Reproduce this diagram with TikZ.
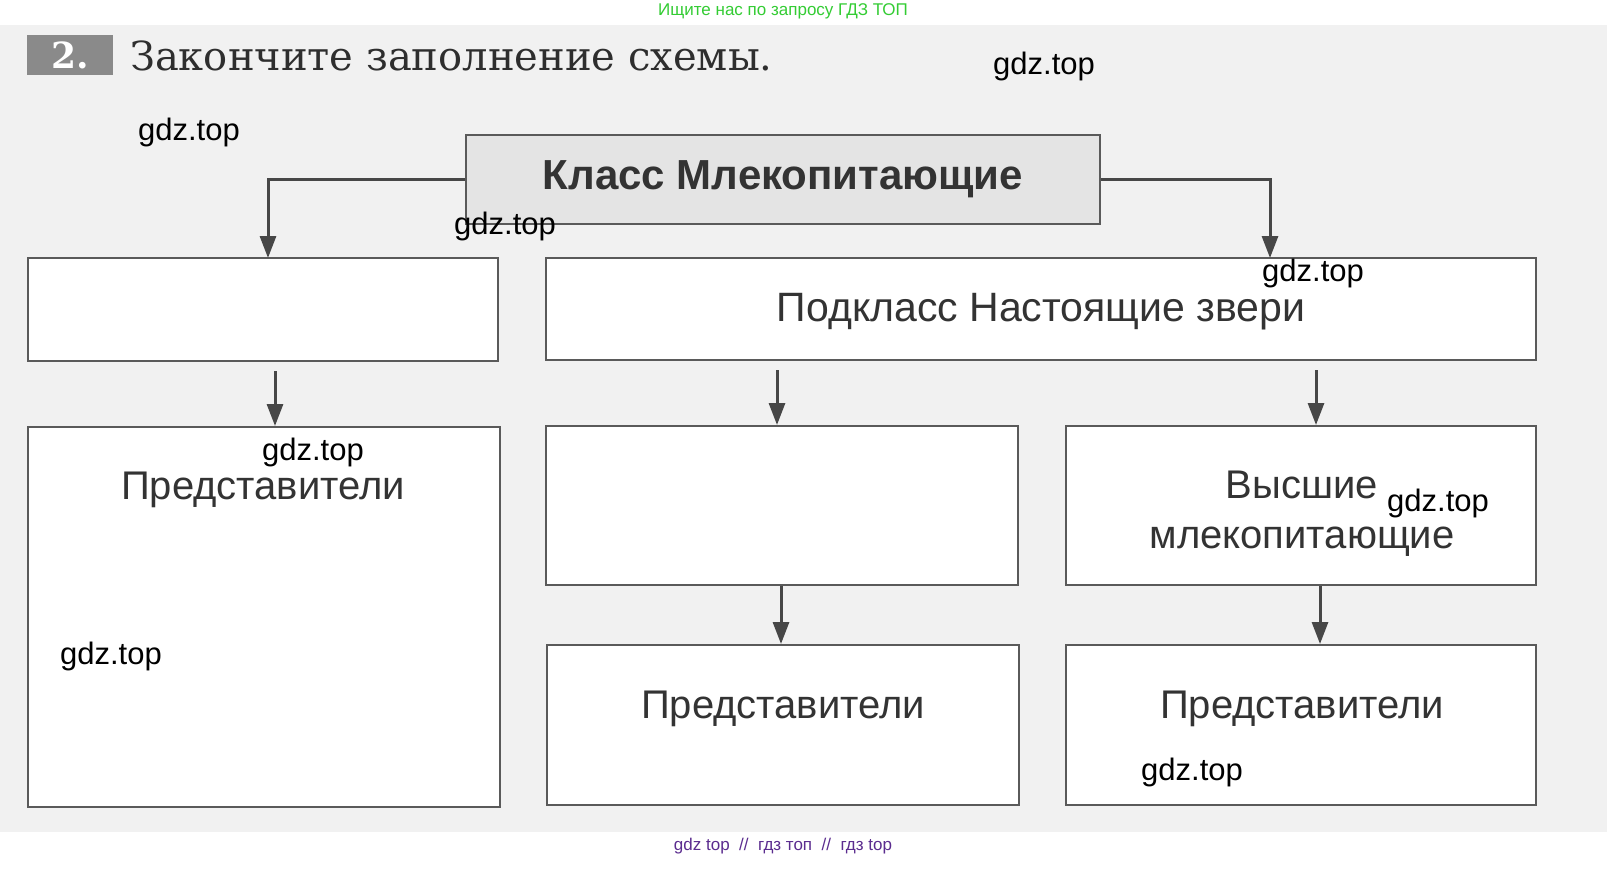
\documentclass[tikz,border=0pt]{standalone}
\usepackage{fontspec}
\setmainfont{Liberation Sans}
\newfontfamily\titlefont{DejaVu Serif}
\usetikzlibrary{arrows.meta}
\definecolor{bgscan}{HTML}{F1F1F1}
\definecolor{boxline}{HTML}{5A5A5A}
\definecolor{arrc}{HTML}{474747}
\definecolor{txt}{HTML}{333333}
\definecolor{titletxt}{HTML}{2E2E2E}
\definecolor{topfill}{HTML}{E4E4E4}
\definecolor{badge}{HTML}{8A8A8A}
\definecolor{wmgreen}{HTML}{33CC33}
\definecolor{wmpurple}{HTML}{5B2C8F}
\tikzset{
  box/.style={draw=boxline, line width=2pt, fill=white, inner sep=0pt, text=txt},
  arr/.style={draw=arrc, line width=3pt, -{Triangle[length=22pt,width=16pt]}},
  lbl/.style={inner sep=0pt, text=txt, font=\fontsize{40}{50}\selectfont, align=center},
  wm/.style={inner sep=0pt, text=black, font=\fontsize{31}{31}\selectfont}
}
\begin{document}
\begin{tikzpicture}[x=1pt,y=-1pt]
\useasboundingbox (0,0) rectangle (1607,881);
\fill[white] (0,0) rectangle (1607,881);
\fill[bgscan] (0,25) rectangle (1607,832);
% header
\node[wm, text=wmgreen, font=\fontsize{17}{17}\selectfont] (hdr) at (783,11) {Ищите нас по запросу ГДЗ ТОП};
\node[fill=badge, minimum width=86pt, minimum height=40pt, inner sep=0pt, text=white, font=\titlefont\bfseries\fontsize{36}{36}\selectfont] (badge) at (70,55) {2.};
\node[anchor=base west, inner sep=0pt, text=titletxt, font=\titlefont\fontsize{40}{40}\selectfont] (title) at (130,70) {Закончите заполнение схемы.};
% boxes
\node[box, fill=topfill, minimum width=634pt, minimum height=89pt, font=\bfseries\fontsize{42}{50}\selectfont] (top) at (783,179.5) {Класс Млекопитающие};
\node[box, minimum width=470pt, minimum height=103pt] (L1) at (263,309.5) {};
\node[box, minimum width=990pt, minimum height=102pt] (R1) at (1041,309) {};
\node[box, minimum width=472pt, minimum height=380pt] (L2) at (264,617) {};
\node[box, minimum width=472pt, minimum height=159pt] (M2) at (782,505.5) {};
\node[box, minimum width=470pt, minimum height=159pt] (R2) at (1301,505.5) {};
\node[box, minimum width=472pt, minimum height=160pt] (M3) at (783,725) {};
\node[box, minimum width=470pt, minimum height=160pt] (R3) at (1301,725) {};
% labels
\node[lbl, font=\fontsize{41}{48}\selectfont] (R1t) at (1041,312) {Подкласс Настоящие звери};
\node[lbl] (L2t) at (263,490) {Представители};
\node[lbl] (R2t) at (1302,514) {Высшие\\млекопитающие};
\node[lbl] (M3t) at (783,709) {Представители};
\node[lbl] (R3t) at (1302,709) {Представители};
% arrow helper coordinates
\coordinate (ta) at (268,258);
\coordinate (tb) at (1270,258);
\coordinate (xa) at (275,0);
\coordinate (xb) at (777,0);
\coordinate (xc) at (1316,0);
\coordinate (xd) at (781,0);
\coordinate (xe) at (1320,0);
% connectors
\draw[arr] (top.west) -| (ta);
\draw[arr] (top.east) -| (tb);
\draw[arr, shorten <=9pt] (L1.south -| xa) -- (L2.north -| xa);
\draw[arr, shorten <=9pt] (R1.south -| xb) -- (M2.north -| xb);
\draw[arr, shorten <=9pt] (R1.south -| xc) -- (R2.north -| xc);
\draw[arr] (M2.south -| xd) -- (M3.north -| xd);
\draw[arr] (R2.south -| xe) -- (R3.north -| xe);
% watermarks
\node[wm] (w1) at (1044,66) {gdz.top};
\node[wm] (w2) at (189,132) {gdz.top};
\node[wm] (w3) at (505,226) {gdz.top};
\node[wm] (w4) at (1313,273) {gdz.top};
\node[wm] (w5) at (313,452) {gdz.top};
\node[wm] (w6) at (1438,503) {gdz.top};
\node[wm] (w7) at (111,656) {gdz.top};
\node[wm] (w8) at (1192,772) {gdz.top};
% footer
\node[wm, text=wmpurple, font=\fontsize{17}{17}\selectfont] (ftr) at (783,846) {gdz top \ // \ гдз топ \ // \ гдз top};
\end{tikzpicture}
\end{document}
